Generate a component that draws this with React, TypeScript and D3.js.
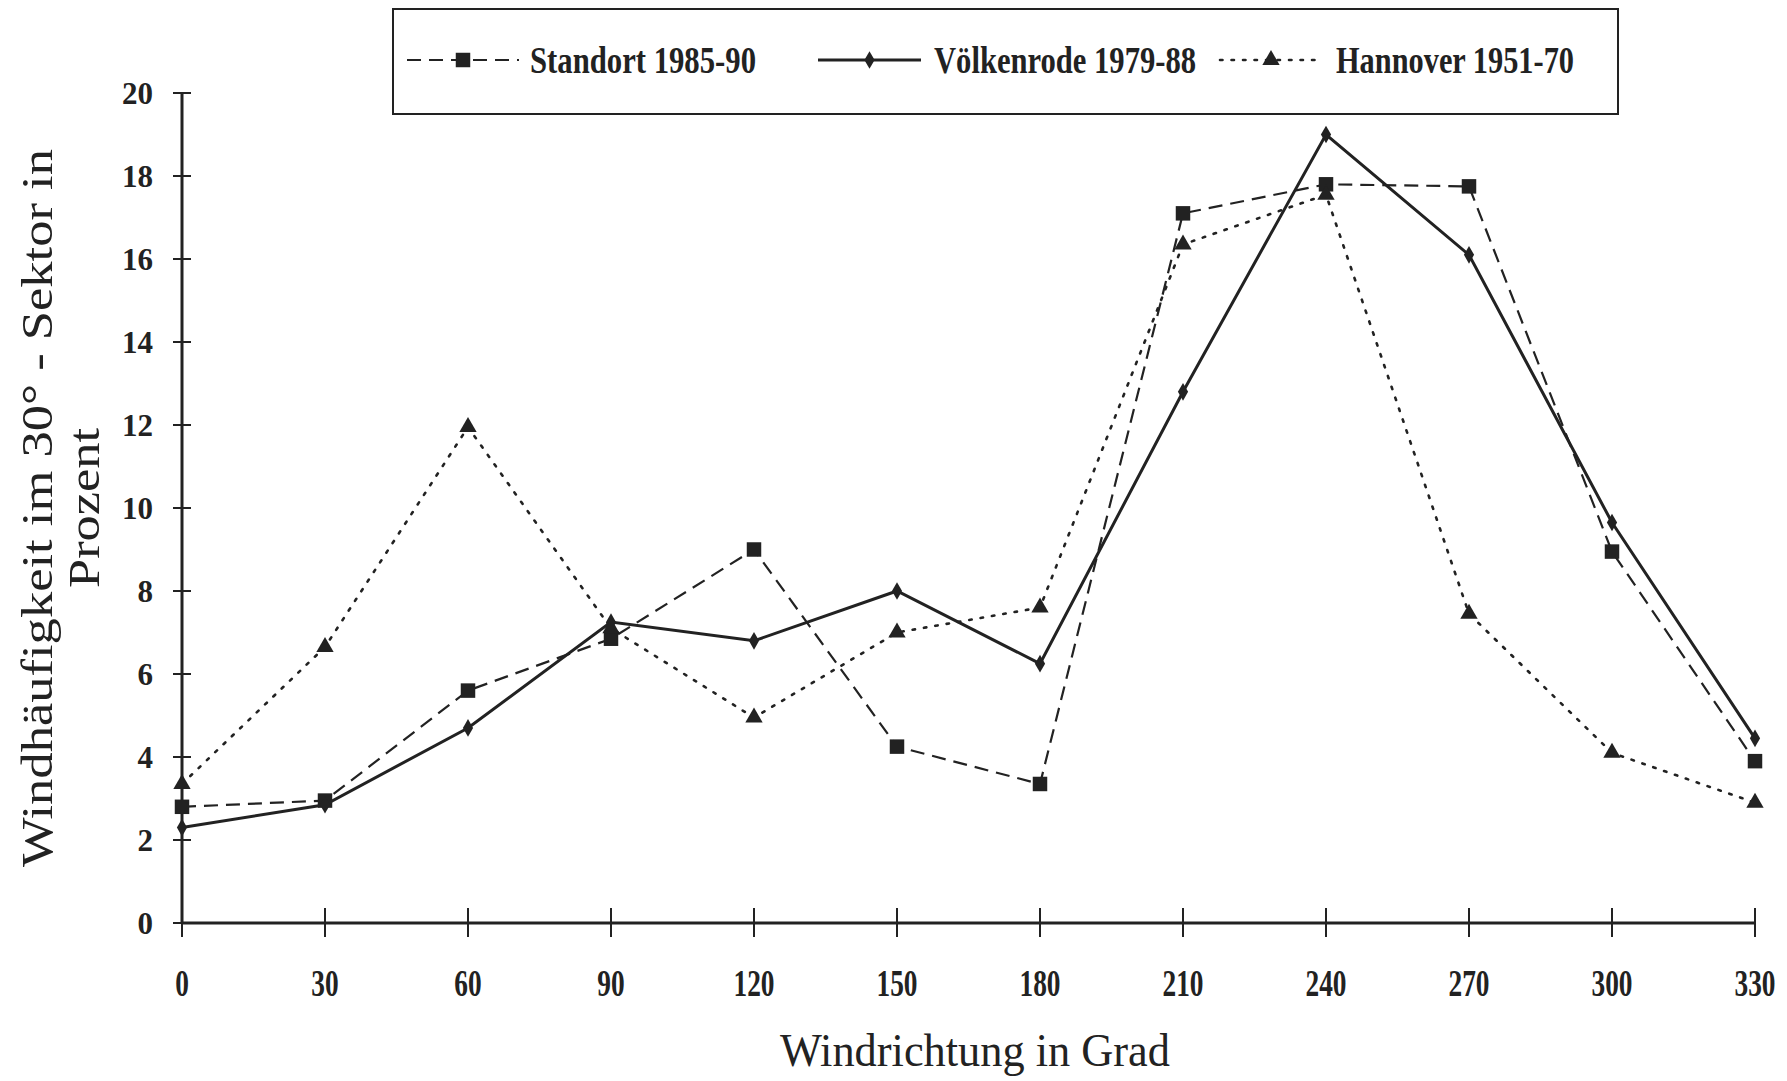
import * as d3 from 'd3';
import { useEffect, useRef } from 'react';

// Wind direction in degrees
const directions = [0, 30, 60, 90, 120, 150, 180, 210, 240, 270, 300, 330];

// Frequency in 30° sector, percent
const standort = [2.8, 2.95, 5.6, 6.85, 9.0, 4.25, 3.35, 17.1, 17.8, 17.75, 8.95, 3.9];
const voelkenrode = [2.3, 2.85, 4.7, 7.25, 6.8, 8.0, 6.25, 12.8, 19.0, 16.1, 9.65, 4.45];
const hannover = [3.35, 6.65, 11.95, 7.1, 4.95, 7.0, 7.6, 16.35, 17.55, 7.45, 4.1, 2.9];

const yTicks = [0, 2, 4, 6, 8, 10, 12, 14, 16, 18, 20];

const seriesNames = ['Standort 1985-90', 'Völkenrode 1979-88', 'Hannover 1951-70'];

export default function App() {
  const ref = useRef<SVGSVGElement>(null);

  useEffect(() => {
    const W = 1787;
    const H = 1081;
    const ink = '#222';
    const serif = '"Liberation Serif", "Times New Roman", serif';

    const svg = d3.select(ref.current).attr('width', W).attr('height', H);
    svg.selectAll('*').remove();
    svg.append('rect').attr('width', W).attr('height', H).attr('fill', '#fff');

    const x = d3.scaleLinear().domain([0, 330]).range([182, 1755]);
    const y = d3.scaleLinear().domain([0, 20]).range([923, 93]);

    /**
     * Axes
     */
    const g = svg.append('g').attr('stroke', ink);
    g.append('line').attr('x1', x(0)).attr('x2', x(0)).attr('y1', y(20)).attr('y2', y(0)).attr('stroke-width', 3);
    g.append('line').attr('x1', x(0)).attr('x2', x(330)).attr('y1', y(0)).attr('y2', y(0)).attr('stroke-width', 3);

    g.selectAll('.yt')
      .data(yTicks)
      .join('line')
      .attr('x1', x(0) - 9)
      .attr('x2', x(0) + 9)
      .attr('y1', (d) => y(d))
      .attr('y2', (d) => y(d))
      .attr('stroke-width', 2);

    g.selectAll('.xt')
      .data(directions)
      .join('line')
      .attr('x1', (d) => x(d))
      .attr('x2', (d) => x(d))
      .attr('y1', y(0) - 15)
      .attr('y2', y(0) + 14)
      .attr('stroke-width', 2);

    svg
      .append('g')
      .selectAll('text')
      .data(yTicks)
      .join('text')
      .attr('x', 153)
      .attr('y', (d) => y(d))
      .attr('dy', '0.35em')
      .attr('text-anchor', 'end')
      .attr('font-family', serif)
      .attr('font-weight', 'bold')
      .attr('font-size', 31)
      .attr('fill', ink)
      .text((d) => d);

    svg
      .append('g')
      .selectAll('text')
      .data(directions)
      .join('text')
      .attr('transform', (d) => `translate(${x(d)},996) scale(0.72,1)`)
      .attr('text-anchor', 'middle')
      .attr('font-family', serif)
      .attr('font-weight', 'bold')
      .attr('font-size', 38)
      .attr('fill', ink)
      .text((d) => d);

    // Axis titles
    svg
      .append('text')
      .attr('x', 975)
      .attr('y', 1066)
      .attr('text-anchor', 'middle')
      .attr('font-family', serif)
      .attr('font-size', 46)
      .attr('textLength', 390)
      .attr('lengthAdjust', 'spacingAndGlyphs')
      .attr('fill', ink)
      .text('Windrichtung  in Grad');

    svg
      .append('text')
      .attr('transform', 'translate(52,508) rotate(-90)')
      .attr('text-anchor', 'middle')
      .attr('font-family', serif)
      .attr('font-size', 44)
      .attr('textLength', 718)
      .attr('lengthAdjust', 'spacingAndGlyphs')
      .attr('fill', ink)
      .text('Windhäufigkeit im 30° - Sektor in');

    svg
      .append('text')
      .attr('transform', 'translate(99,508) rotate(-90)')
      .attr('text-anchor', 'middle')
      .attr('font-family', serif)
      .attr('font-size', 44)
      .attr('textLength', 160)
      .attr('lengthAdjust', 'spacingAndGlyphs')
      .attr('fill', ink)
      .text('Prozent');

    /**
     * Series
     */
    const styles = [
      { values: standort, dash: '14,8', width: 2.2, marker: 'square' },
      { values: voelkenrode, dash: null, width: 3, marker: 'diamond' },
      { values: hannover, dash: '2.5,9', width: 2.6, marker: 'triangle' },
    ];

    const line = d3
      .line<number>()
      .x((_, i) => x(directions[i]))
      .y((d) => y(d));

    const symbolFor = (m: string) =>
      m === 'square'
        ? d3.symbol().type(d3.symbolSquare).size(210)
        : m === 'diamond'
        ? d3.symbol().type(d3.symbolDiamond).size(90)
        : d3.symbol().type(d3.symbolTriangle).size(130);

    styles.forEach((s) => {
      svg
        .append('path')
        .attr('d', line(s.values))
        .attr('fill', 'none')
        .attr('stroke', ink)
        .attr('stroke-width', s.width)
        .attr('stroke-dasharray', s.dash)
        .attr('stroke-linecap', s.marker === 'triangle' ? 'round' : 'butt');

      svg
        .append('g')
        .selectAll('path')
        .data(s.values)
        .join('path')
        .attr('transform', (d, i) => `translate(${x(directions[i])},${y(d)})`)
        .attr('d', symbolFor(s.marker)())
        .attr('fill', ink);
    });

    /**
     * Legend
     */
    svg
      .append('rect')
      .attr('x', 393)
      .attr('y', 9)
      .attr('width', 1225)
      .attr('height', 105)
      .attr('fill', 'none')
      .attr('stroke', ink)
      .attr('stroke-width', 2);

    const legendPos = [
      { x1: 407, x2: 519, tx: 530, tl: 226 },
      { x1: 818, x2: 921, tx: 934, tl: 262 },
      { x1: 1220, x2: 1322, tx: 1336, tl: 238 },
    ];

    legendPos.forEach((p, i) => {
      const s = styles[i];
      const ly = 60;
      svg
        .append('line')
        .attr('x1', p.x1)
        .attr('x2', p.x2)
        .attr('y1', ly)
        .attr('y2', ly)
        .attr('stroke', ink)
        .attr('stroke-width', s.width)
        .attr('stroke-dasharray', s.dash)
        .attr('stroke-linecap', s.marker === 'triangle' ? 'round' : 'butt');
      svg
        .append('path')
        .attr('transform', `translate(${(p.x1 + p.x2) / 2},${ly})`)
        .attr('d', symbolFor(s.marker)())
        .attr('fill', ink);
      svg
        .append('text')
        .attr('x', p.tx)
        .attr('y', ly)
        .attr('dy', '0.35em')
        .attr('font-family', serif)
        .attr('font-weight', 'bold')
        .attr('font-size', 37)
        .attr('textLength', p.tl)
        .attr('lengthAdjust', 'spacingAndGlyphs')
        .attr('fill', ink)
        .text(seriesNames[i]);
    });
  }, []);

  return <svg ref={ref} style={{ position: 'absolute', left: 0, top: 0 }} />;
}
